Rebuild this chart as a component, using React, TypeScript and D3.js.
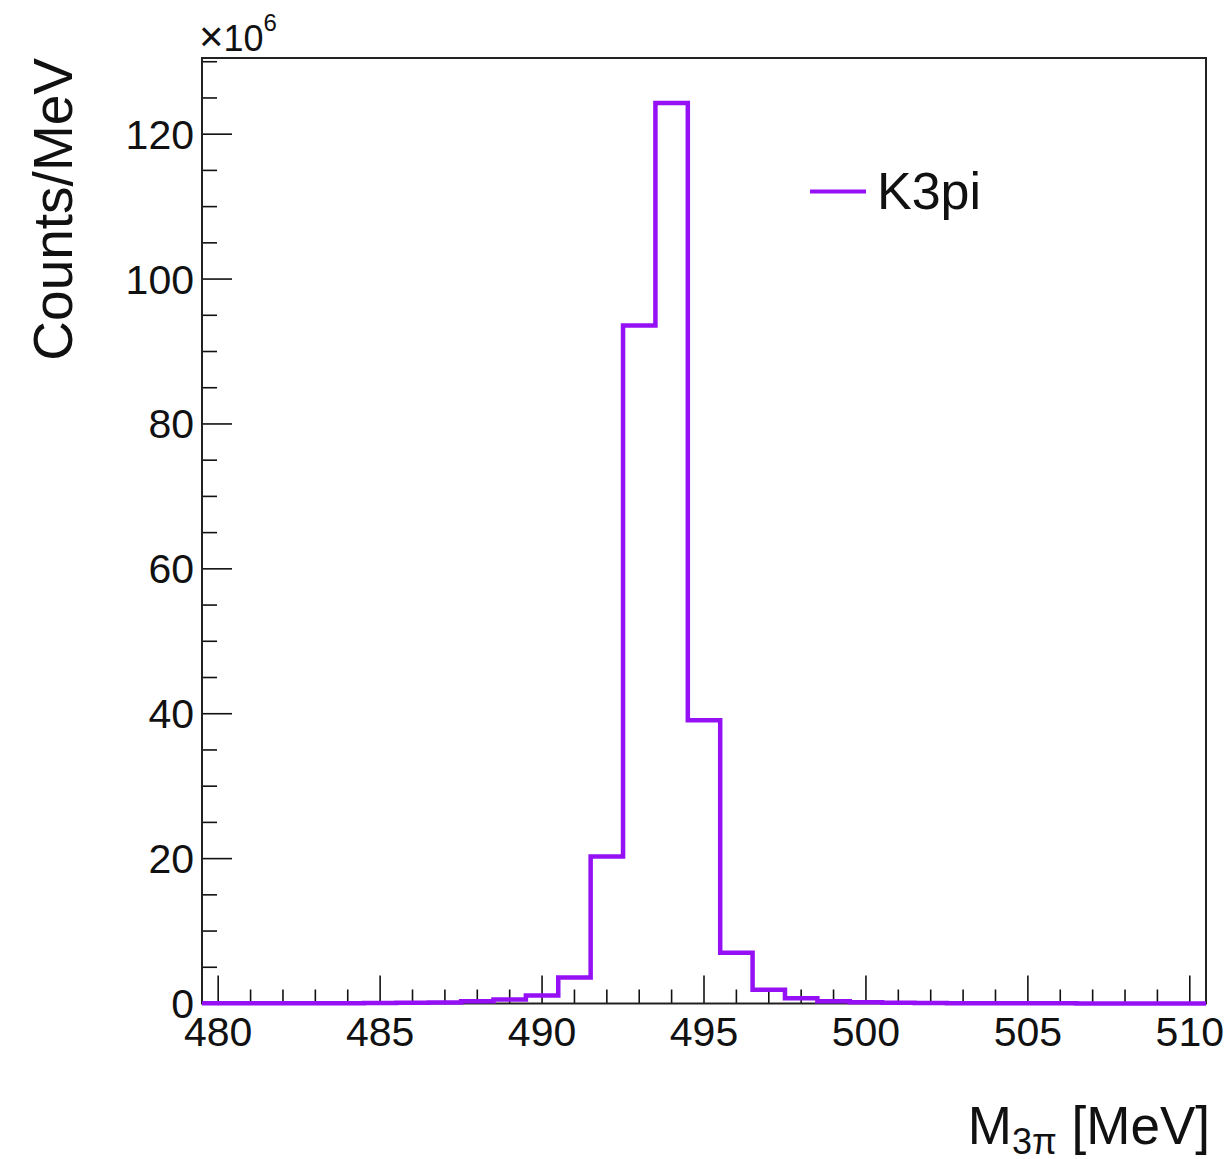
import React from "react";
import * as d3 from "d3";

// bin centres in MeV, 1 MeV wide bins
const binCenters = [
  480, 481, 482, 483, 484, 485, 486, 487, 488, 489, 490, 491, 492, 493, 494, 495,
  496, 497, 498, 499, 500, 501, 502, 503, 504, 505, 506, 507, 508, 509, 510,
];
// counts per MeV, in units of 1e6
const counts = [
  0.02, 0.02, 0.03, 0.04, 0.05, 0.06, 0.09, 0.15, 0.3, 0.55, 1.1, 3.6, 20.3, 93.6, 124.3, 39.1,
  7.0, 1.9, 0.72, 0.32, 0.16, 0.09, 0.06, 0.04, 0.03, 0.02, 0.02, 0.01, 0.01, 0.01, 0.01,
];
const xMajorTicks = [480, 485, 490, 495, 500, 505, 510];
const yMajorTicks = [0, 20, 40, 60, 80, 100, 120];

const width = 1230;
const height = 1159;
const frame = { left: 202, right: 1206, top: 58, bottom: 1003.5 };
const lineColor = "#9510f5";
const font = "'Liberation Sans', Arial, Helvetica, sans-serif";

const App = () => {
  const binWidth = 1;
  const x = d3
    .scaleLinear()
    .domain([binCenters[0] - binWidth / 2, binCenters[binCenters.length - 1] + binWidth / 2])
    .range([frame.left, frame.right]);
  const yMax = d3.max(counts)! * 1.05;
  const y = d3.scaleLinear().domain([0, yMax]).range([frame.bottom, frame.top]);

  // step outline of the histogram
  const pts: [number, number][] = [];
  binCenters.forEach((c, i) => {
    pts.push([c - binWidth / 2, counts[i]]);
    pts.push([c + binWidth / 2, counts[i]]);
  });
  const line = d3
    .line<[number, number]>()
    .x(d => x(d[0]))
    .y(d => y(d[1]));

  const xMinor = d3.range(480, 511, 1).filter(v => !xMajorTicks.includes(v));
  const yMinor = d3.range(0, yMax, 5).filter(v => !yMajorTicks.includes(v));

  return (
    <svg
      width={width}
      height={height}
      style={{ position: "absolute", left: 0, top: 0, background: "#fff" }}
      fontFamily={font}
    >
      <rect x={0} y={0} width={width} height={height} fill="#fff" />

      {/* ticks */}
      <g stroke="#111" strokeWidth={1.6}>
        {xMajorTicks.map(t => (
          <line key={"xm" + t} x1={x(t)} x2={x(t)} y1={frame.bottom} y2={frame.bottom - 28} />
        ))}
        {xMinor.map(t => (
          <line key={"xn" + t} x1={x(t)} x2={x(t)} y1={frame.bottom} y2={frame.bottom - 14} />
        ))}
        {yMajorTicks.map(t => (
          <line key={"ym" + t} x1={frame.left} x2={frame.left + 30} y1={y(t)} y2={y(t)} />
        ))}
        {yMinor.map(t => (
          <line key={"yn" + t} x1={frame.left} x2={frame.left + 15} y1={y(t)} y2={y(t)} />
        ))}
      </g>

      {/* frame */}
      <rect
        x={frame.left}
        y={frame.top}
        width={frame.right - frame.left}
        height={frame.bottom - frame.top}
        fill="none"
        stroke="#222"
        strokeWidth={2}
      />

      {/* histogram */}
      <path d={line(pts)!} fill="none" stroke={lineColor} strokeWidth={4.5} strokeLinejoin="miter" />

      {/* tick labels */}
      <g fontSize={41} fill="#111">
        {xMajorTicks.map(t => (
          <text key={"xl" + t} x={x(t)} y={1046} textAnchor="middle">
            {t}
          </text>
        ))}
        {yMajorTicks.map(t => (
          <text key={"yl" + t} x={194} y={y(t) + 14.5} textAnchor="end">
            {t}
          </text>
        ))}
      </g>

      {/* exponent */}
      <text x={199} y={51} fontSize={36} fill="#111">
        <tspan fontSize={42}>×</tspan>10
        <tspan fontSize={24} dy={-20}>
          6
        </tspan>
      </text>

      {/* axis titles */}
      <text
        transform={`translate(72, 58) rotate(-90)`}
        textAnchor="end"
        fontSize={55}
        fill="#111"
      >
        Counts/MeV
      </text>
      <text x={1210} y={1144} textAnchor="end" fontSize={53} fill="#111">
        M
        <tspan fontSize={36} dy={10}>
          3π
        </tspan>
        <tspan dy={-10}> [MeV]</tspan>
      </text>

      {/* legend */}
      <line x1={810} x2={866} y1={191.5} y2={191.5} stroke={lineColor} strokeWidth={4} />
      <text x={877} y={209} fontSize={52} fill="#111">
        K3pi
      </text>
    </svg>
  );
};

export default App;
